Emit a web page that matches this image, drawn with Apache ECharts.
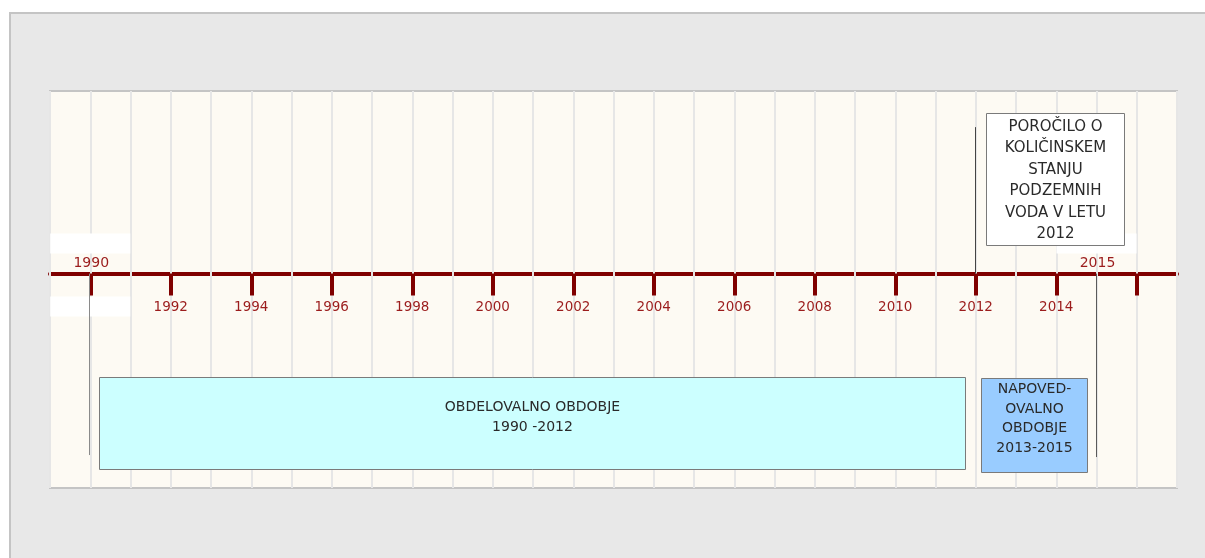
<!DOCTYPE html>
<html>
<head>
<meta charset="utf-8">
<script src="https://cdn.jsdelivr.net/npm/echarts@6.0.0/dist/echarts.min.js"></script>
<style>
  html, body { margin: 0; padding: 0; background: #fff; }
  #frame { position: absolute; left: 9px; top: 12px; width: 1300px; height: 700px;
           background: #e8e8e8; border: 2px solid #c4c4c4; }
  #chart { position: absolute; left: 0; top: 0; width: 1205px; height: 558px; }
</style>
</head>
<body>
<div id="frame"></div>
<div id="chart"></div>
<script>
// os let
const yearMin = 1989;
const yearMax = 2017;
const tickYears = [1990, 1992, 1994, 1996, 1998, 2000, 2002, 2004, 2006, 2008, 2010, 2012, 2014, 2016];
const labelYears = [1992, 1994, 1996, 1998, 2000, 2002, 2004, 2006, 2008, 2010, 2012, 2014];

// oznake nad osjo
const markerYears = [1990, 2015];

// navpične črte (leto, konec v enotah osi y)
const leaderYears = [1990, 2012, 2015];
const leaderEnds = [-45.7, 36.9, -46.2];

// okvirji z besedilom
const boxTexts = [
  'OBDELOVALNO OBDOBJE\n1990 -2012',
  'NAPOVED-\nOVALNO\nOBDOBJE\n2013-2015',
  'POROČILO O\nKOLIČINSKEM\nSTANJU\nPODZEMNIH\nVODA V LETU\n2012'
];
const boxStart = [1990.22, 2012.12, 2012.25];
const boxEnd = [2011.73, 2014.76, 2015.68];
const boxTop = [-26.0, -26.3, 40.45];
const boxBottom = [-49.2, -49.9, 7.2];

// slogi okvirjev
const boxFill = ['#ccffff', '#99ccff', '#ffffff'];
const boxFont = [14, 14, 15];
const boxLineH = [19.5, 19.5, 21.5];
const boxPad = [20.5, 1.5, 2.5];
const leaderColor = ['#8a8a8a', '#444444', '#5a5a5a'];

const FONT = '"DejaVu Sans", sans-serif';
const RED = '#800000';
const LABEL_RED = '#9b1c1c';

const chart = echarts.init(document.getElementById('chart'));

const option = {
  backgroundColor: 'transparent',
  animation: false,
  grid: [
    { left: 50, right: 28, top: 91, bottom: 70, show: true, backgroundColor: '#fdfaf3', borderColor: '#c4c4c4', borderWidth: 2 },
    // os s črticami: spodnji rob te mreže je na višini časovne osi
    { left: 50, right: 28, top: 91, bottom: 284.4, show: false }
  ],
  xAxis: [
    {
      type: 'value', gridIndex: 0, position: 'bottom', min: yearMin, max: yearMax, interval: 1, z: 1,
      axisLine: { onZero: true, lineStyle: { color: RED, width: 4 } },
      axisTick: { show: false },
      axisLabel: { show: false },
      splitLine: { show: false }
    },
    {
      type: 'value', gridIndex: 0, position: 'top', min: yearMin, max: yearMax, interval: 1, z: 2,
      axisLine: { show: false },
      axisTick: { show: false },
      axisLabel: { show: false },
      splitLine: { show: true, lineStyle: { color: '#e6e6e6', width: 2 } }
    },
    {
      type: 'value', gridIndex: 1, position: 'bottom', min: yearMin, max: yearMax, interval: 1, z: 3,
      axisLine: { onZero: false, lineStyle: { color: 'rgba(0,0,0,0)' } },
      axisTick: { customValues: tickYears, length: 22, lineStyle: { color: RED, width: 4 } },
      axisLabel: {
        customValues: labelYears, margin: 27,
        formatter: v => String(v),
        color: LABEL_RED, fontSize: 13.5, fontFamily: FONT
      },
      splitLine: { show: false }
    }
  ],
  yAxis: [
    { type: 'value', gridIndex: 0, min: -54, max: 46, show: false },
    { type: 'value', gridIndex: 1, min: 0, max: 1, show: false }
  ],
  series: [
    {
      type: 'custom',
      name: 'markers',
      clip: false,
      z: 3,
      data: markerYears.map(y => [y, 0]),
      renderItem: function (params, api) {
        const p = api.coord([api.value(0), 0]);
        const children = [
          { type: 'rect', shape: { x: p[0] - 40, y: p[1] - 40, width: 80, height: 20 }, style: { fill: '#ffffff' } },
          {
            type: 'text', x: p[0] + 1, y: p[1] - 10,
            style: { text: String(api.value(0)), fill: LABEL_RED, font: '14px ' + FONT, align: 'center', verticalAlign: 'middle' }
          }
        ];
        if (params.dataIndex === 0) {
          children.push({ type: 'rect', shape: { x: p[0] - 40, y: p[1] + 23, width: 80, height: 20 }, style: { fill: '#ffffff' } });
        }
        return { type: 'group', children: children };
      }
    },
    {
      type: 'custom',
      name: 'leaders',
      clip: false,
      z: 4,
      data: leaderYears.map((y, i) => [y, leaderEnds[i]]),
      renderItem: function (params, api) {
        const a = api.coord([api.value(0), 0]);
        const b = api.coord([api.value(0), api.value(1)]);
        return {
          type: 'line',
          shape: { x1: Math.round(a[0]) - 0.5, y1: a[1], x2: Math.round(a[0]) - 0.5, y2: b[1] },
          style: { stroke: leaderColor[params.dataIndex], lineWidth: 1 }
        };
      }
    },
    {
      type: 'custom',
      name: 'boxes',
      clip: false,
      z: 5,
      data: boxTexts.map((t, i) => [boxStart[i], boxTop[i], boxEnd[i], boxBottom[i]]),
      renderItem: function (params, api) {
        const i = params.dataIndex;
        const a = api.coord([api.value(0), api.value(1)]);
        const b = api.coord([api.value(2), api.value(3)]);
        const x = Math.round(a[0]) + 0.5, y = Math.round(a[1]) + 0.5;
        const w = Math.round(b[0] - a[0]), h = Math.round(b[1] - a[1]);
        return {
          type: 'group',
          children: [
            {
              type: 'rect', shape: { x: x, y: y, width: w, height: h },
              style: { fill: boxFill[i], stroke: '#7a7a7a', lineWidth: 1 }
            },
            {
              type: 'text', x: x + w / 2, y: y + boxPad[i],
              style: {
                text: boxTexts[i], fill: '#2a2a2a', align: 'center', verticalAlign: 'top',
                font: boxFont[i] + 'px ' + FONT, lineHeight: boxLineH[i]
              }
            }
          ]
        };
      }
    }
  ]
};

chart.setOption(option);
</script>
</body>
</html>
